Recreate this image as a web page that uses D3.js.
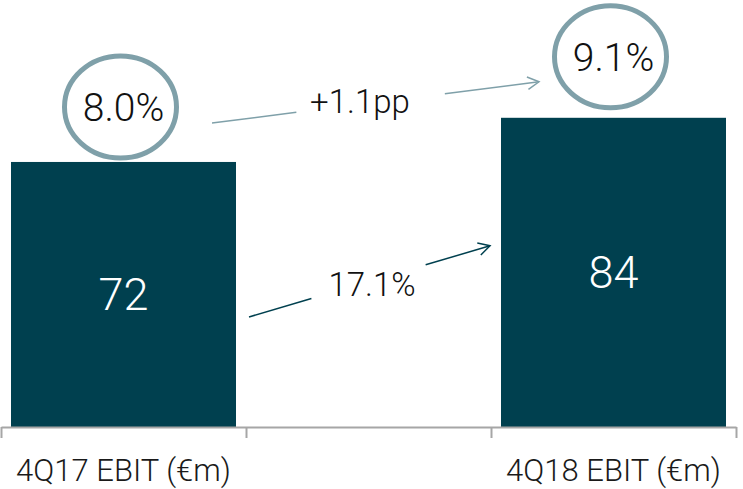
<!DOCTYPE html>
<html><head><meta charset="utf-8">
<script src="https://cdn.jsdelivr.net/npm/d3@7"></script>
<style>
html,body{margin:0;padding:0;background:#fff;}
svg{display:block;}
text{font-family:"Roboto","Liberation Sans",sans-serif;font-weight:300;}
</style></head>
<body>
<svg id="chart" width="743" height="489"></svg>
<script>
const categories = ["4Q17 EBIT (€m)", "4Q18 EBIT (€m)"];
const values = [72, 84];
const margins = ["8.0%", "9.1%"];
const growthLabel = "17.1%";
const marginChangeLabel = "+1.1pp";

const svg = d3.select("#chart");
const barColor = "#00404f";
const accent = "#7fa0a9";

const slots = [categories[0], "_gap", categories[1]];
const x = d3.scaleBand().domain(slots).range([1, 736]).padding(0);
const xEdge = d3.scaleLinear().domain([0, slots.length]).range([1, 736]);
const y = d3.scaleLinear().domain([0, 116]).range([427, 0]);
const inset = 10;
const data = categories.map((c, i) => ({cat: c, value: values[i], margin: margins[i]}));

// bars
svg.append("g").selectAll("rect").data(data).join("rect")
  .attr("x", d => x(d.cat) + inset)
  .attr("width", x.bandwidth() - 2 * inset)
  .attr("y", d => y(d.value))
  .attr("height", d => y(0) - y(d.value))
  .attr("fill", barColor);

// axis
const axis = svg.append("g").attr("transform", `translate(0,${y(0)})`)
  .call(d3.axisBottom(xEdge).tickValues(d3.range(slots.length + 1)).tickSizeInner(11).tickSizeOuter(0).tickFormat(""));
axis.select(".domain").attr("stroke", "#a6a6a6").attr("stroke-width", 2);
axis.selectAll(".tick line").attr("stroke", "#a6a6a6").attr("stroke-width", 2);

// category labels
svg.append("g").selectAll("text").data(data).join("text")
  .attr("x", d => x(d.cat) + x.bandwidth() / 2)
  .attr("y", 481)
  .attr("text-anchor", "middle")
  .attr("font-size", 31)
  .attr("fill", "#1a1a1a")
  .text(d => d.cat);

// value labels
svg.append("g").selectAll("text").data(data).join("text")
  .attr("x", d => x(d.cat) + x.bandwidth() / 2)
  .attr("y", d => y(d.value) + (y(0) - y(d.value)) / 2 + 16)
  .attr("text-anchor", "middle")
  .attr("font-size", 45)
  .attr("fill", "#fff")
  .text(d => d.value);

// margin ellipses
const circOff = [55, 61];
const mg = svg.append("g");
data.forEach((d, i) => {
  const cx = x(d.cat) + x.bandwidth() / 2 - 3;
  const cy = y(d.value) - circOff[i];
  mg.append("ellipse").attr("cx", cx).attr("cy", cy).attr("rx", 56).attr("ry", 51)
    .attr("fill", "none").attr("stroke", accent).attr("stroke-width", 5);
  mg.append("text").attr("x", cx + 3).attr("y", cy + 14)
    .attr("text-anchor", "middle").attr("font-size", 39).attr("fill", "#111")
    .text(d.margin);
});

function arrow(x1, y1, x2, y2, t1, t2, color, width) {
  const g = svg.append("g").attr("stroke", color).attr("stroke-width", width).attr("fill", "none");
  const px = t => x1 + (x2 - x1) * t, py = t => y1 + (y2 - y1) * t;
  g.append("line").attr("x1", x1).attr("y1", y1).attr("x2", px(t1)).attr("y2", py(t1));
  g.append("line").attr("x1", px(t2)).attr("y1", py(t2)).attr("x2", x2).attr("y2", y2);
  const ang = Math.atan2(y2 - y1, x2 - x1), L = 13, a = 0.5;
  g.append("path").attr("d",
    `M${x2 - L * Math.cos(ang - a)},${y2 - L * Math.sin(ang - a)}L${x2},${y2}L${x2 - L * Math.cos(ang + a)},${y2 - L * Math.sin(ang + a)}`);
}

const b0 = x(categories[0]) + x.bandwidth(), b1 = x(categories[1]);
// margin change arrow
arrow(b0 - 34, y(values[0]) - 39, b1 + 48, y(values[1]) - 36, 0.258, 0.712, accent, 1.5);
svg.append("text").attr("x", 360).attr("y", y(values[0]) - 49)
  .attr("text-anchor", "middle").attr("font-size", 33).attr("fill", "#111").text(marginChangeLabel);
// growth arrow
arrow(b0 + 3, y(values[0]) + 155, b1 - 1, y(values[1]) + 128, 0.259, 0.733, barColor, 1.5);
svg.append("text").attr("x", 372).attr("y", y(values[0]) + 134)
  .attr("text-anchor", "middle").attr("font-size", 33).attr("fill", "#111").text(growthLabel);
</script>
</body></html>
